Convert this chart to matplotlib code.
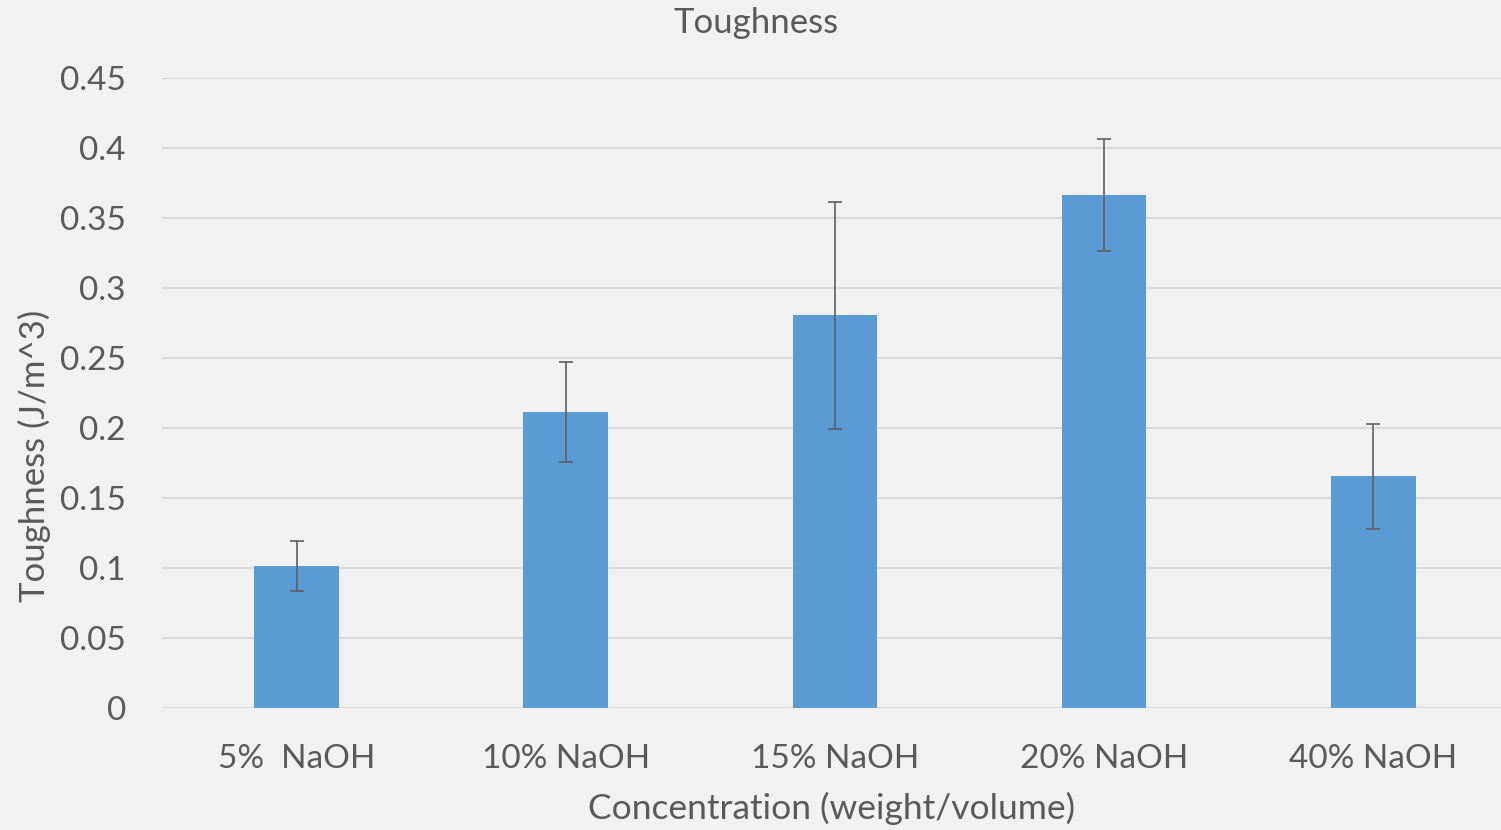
import matplotlib.pyplot as plt

categories = ['5%  NaOH', '10% NaOH', '15% NaOH', '20% NaOH', '40% NaOH']
toughness = [0.1015, 0.2115, 0.2805, 0.3665, 0.1655]
errors = [0.018, 0.0355, 0.081, 0.040, 0.0375]
y_ticks = [0, 0.05, 0.1, 0.15, 0.2, 0.25, 0.3, 0.35, 0.4, 0.45]
y_tick_labels = ['0', '0.05', '0.1', '0.15', '0.2', '0.25', '0.3', '0.35', '0.4', '0.45']

text_color = '#595959'
bg = '#f1f1f1'

plt.rcParams['font.family'] = ['Lato', 'DejaVu Sans']

fig = plt.figure(figsize=(15.01, 8.30), dpi=100)
fig.patch.set_facecolor(bg)
ax = fig.add_axes([0.108, 0.147, 0.892, 0.759])
ax.set_facecolor(bg)

x = range(len(categories))
ax.bar(x, toughness, width=0.315, color='#5b9bd5', zorder=2)
ax.errorbar(x, toughness, yerr=errors, fmt='none', ecolor='#5f5f5f',
            elinewidth=1.2, capsize=5, capthick=1.2, zorder=3)

ax.set_ylim(0, 0.45)
ax.set_xlim(-0.5, 4.475)
ax.set_yticks(y_ticks)
ax.set_yticklabels(y_tick_labels)
ax.set_xticks(list(x))
ax.set_xticklabels(categories)
ax.yaxis.grid(True, color='#d9d9d9', linewidth=1.5, zorder=0)
ax.set_axisbelow(True)
for s in ax.spines.values():
    s.set_visible(False)
ax.tick_params(axis='both', length=0, labelsize=24, colors=text_color)
ax.tick_params(axis='y', pad=26)
ax.tick_params(axis='x', pad=26)

# title sits centred on the whole figure, not on the plot area
fig.text(0.504, 0.972, 'Toughness', fontsize=25, color=text_color,
         ha='center', va='center')
ax.set_xlabel('Concentration (weight/volume)', fontsize=25.5, color=text_color, labelpad=13)
ax.set_ylabel('Toughness (J/m^3)', fontsize=25, color=text_color)
ax.yaxis.set_label_coords(-0.083, 0.4)

fig.savefig('out.png', dpi=100, facecolor=bg)
